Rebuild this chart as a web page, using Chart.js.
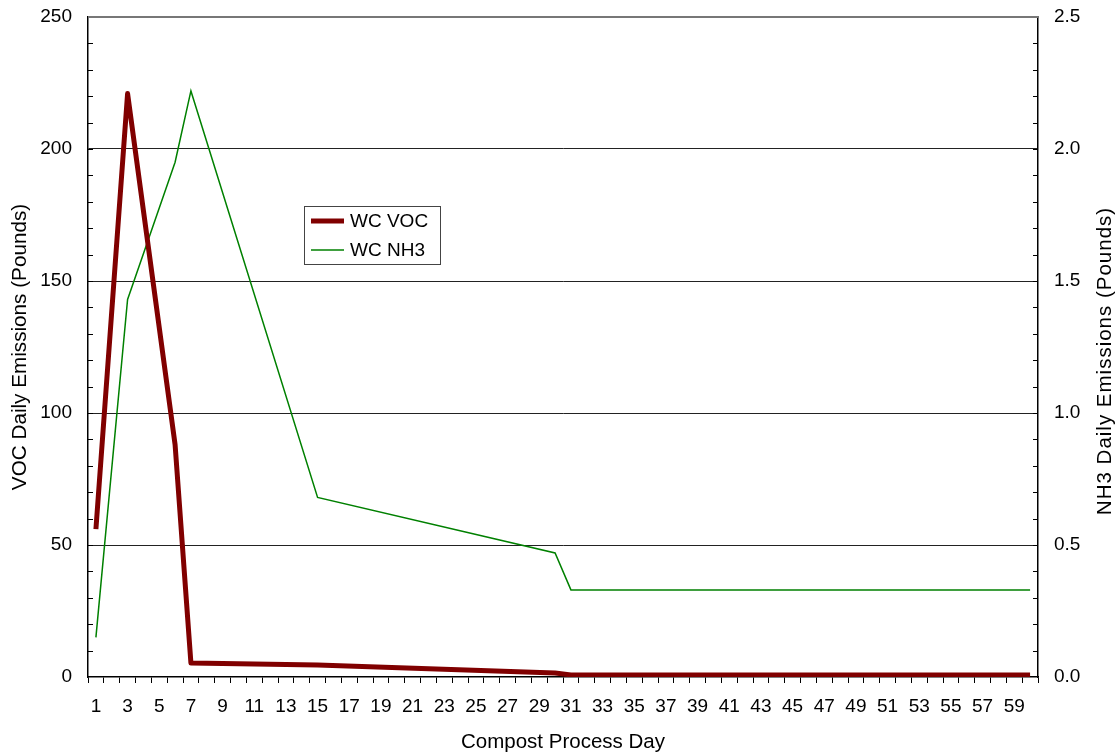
<!DOCTYPE html>
<html>
<head>
<meta charset="utf-8">
<script src="https://cdn.jsdelivr.net/npm/chart.js@4.4.0/dist/chart.umd.min.js"></script>
<style>
  html, body { margin: 0; padding: 0; background: #fff; }
  #wrap { width: 1118px; height: 755px; }
</style>
</head>
<body>
<div id="wrap"><canvas id="chart"></canvas></div>
<script>
// compost days 1..60
const days = ["1","2","3","4","5","6","7","8","9","10","11","12","13","14","15","16","17","18","19","20",
  "21","22","23","24","25","26","27","28","29","30","31","32","33","34","35","36","37","38","39","40",
  "41","42","43","44","45","46","47","48","49","50","51","52","53","54","55","56","57","58","59","60"];

// break points of each series (straight lines between them)
const vocDays = ["1", "3", "6", "7", "15", "30", "31", "60"];
const vocValues = [56, 221, 88, 5.3, 4.5, 1.5, 0.8, 0.8];

const nh3Days = ["1", "3", "6", "7", "15", "30", "31", "60"];
const nh3Values = [0.15, 1.43, 1.95, 2.22, 0.68, 0.47, 0.33, 0.33];

const vocTicks = [0, 50, 100, 150, 200, 250];
const nh3Ticks = [0, 0.5, 1.0, 1.5, 2.0, 2.5];

const FONT = "Liberation Sans, Arial, sans-serif";
const rightTitle = "NH3 Daily Emissions (Pounds)";

// inward minor ticks on both y axes, grey top border, right title, floating legend
const extras = {
  id: "extras",
  afterDraw(chart) {
    const c = chart.ctx;
    const a = chart.chartArea;
    const y = chart.scales.y;
    c.save();
    c.strokeStyle = "#000";
    c.lineWidth = 1;
    for (let v = 10; v < 250; v += 10) {
      const py = Math.round(y.getPixelForValue(v)) + 0.5;
      c.beginPath();
      c.moveTo(a.left, py); c.lineTo(a.left + 5, py);
      c.moveTo(a.right, py); c.lineTo(a.right - 5, py);
      c.stroke();
    }
    // top border
    c.strokeStyle = "#777";
    c.lineWidth = 2;
    c.beginPath();
    c.moveTo(a.left, a.top); c.lineTo(a.right + 1, a.top);
    c.stroke();

    // right axis title, reading bottom to top
    c.save();
    c.translate(1105, 361);
    c.rotate(-Math.PI / 2);
    c.font = "20.5px " + FONT;
    c.letterSpacing = "1px";
    c.fillStyle = "#000";
    c.textAlign = "center";
    c.textBaseline = "middle";
    c.fillText(rightTitle, 0, 0);
    c.restore();

    // legend box
    const lx = a.left + 216, ly = a.top + 189, lw = 136, lh = 58;
    c.strokeStyle = "#444";
    c.lineWidth = 1;
    c.fillStyle = "#fff";
    c.fillRect(lx, ly, lw, lh);
    c.strokeRect(lx + 0.5, ly + 0.5, lw, lh);
    c.font = "19px " + FONT;
    c.textBaseline = "middle";
    chart.data.datasets.forEach((ds, i) => {
      const yy = ly + 15 + i * 29;
      c.strokeStyle = ds.borderColor;
      c.lineWidth = i === 0 ? 5 : 1.5;
      c.beginPath();
      c.moveTo(lx + 7, yy); c.lineTo(lx + 40, yy);
      c.stroke();
      c.fillStyle = "#000";
      c.fillText(ds.label, lx + 46, yy + 1);
    });
    c.restore();
  }
};

function fixWidth(w) {
  return (s) => { s.width = w; s.paddingTop = 0; s.paddingBottom = 0; };
}

const chart = new Chart(document.getElementById("chart"), {
  type: "line",
  data: {
    labels: days,
    datasets: [
      {
        label: "WC VOC",
        data: vocDays.map((d, i) => ({ x: d, y: vocValues[i] })),
        borderColor: "#800000",
        borderWidth: 5,
        borderJoinStyle: "round",
        yAxisID: "y",
      },
      {
        label: "WC NH3",
        data: nh3Days.map((d, i) => ({ x: d, y: nh3Values[i] })),
        borderColor: "#008000",
        borderWidth: 1.5,
        yAxisID: "y1",
      },
    ],
  },
  options: {
    responsive: true,
    maintainAspectRatio: false,
    animation: false,
    spanGaps: true,
    elements: { point: { radius: 0 }, line: { tension: 0 } },
    layout: { padding: { top: 17, left: 0, right: 0, bottom: 0 } },
    plugins: { legend: { display: false }, tooltip: { enabled: false } },
    scales: {
      x: {
        type: "category",
        offset: true,
        afterFit: (s) => { s.height = 78; s.paddingLeft = 0; s.paddingRight = 0; },
        grid: { offset: true, drawOnChartArea: false, drawTicks: true, tickLength: 6, tickColor: "#000" },
        border: { color: "#000", width: 1.5 },
        ticks: {
          autoSkip: false, maxRotation: 0, padding: 12, color: "#000",
          font: { family: FONT, size: 19 },
          callback: (v, i) => (i % 2 === 0 ? days[i] : ""),
        },
        title: {
          display: true, text: "Compost Process Day", color: "#000",
          font: { family: FONT, size: 20.5 }, padding: { top: 7, bottom: 0 },
        },
      },
      y: {
        position: "left",
        min: 0, max: 250,
        afterFit: fixWidth(88),
        afterBuildTicks: (s) => { s.ticks = vocTicks.map((v) => ({ value: v })); },
        grid: {
          drawTicks: false,
          color: (ctx) => (ctx.tick.value === 0 || ctx.tick.value === 250 ? "rgba(0,0,0,0)" : "#222"),
          lineWidth: 1,
        },
        border: { color: "#000", width: 1.5 },
        ticks: { padding: 16, color: "#000", font: { family: FONT, size: 19 } },
        title: {
          display: true, text: "VOC Daily Emissions (Pounds)", color: "#000",
          font: { family: FONT, size: 20.7 }, padding: { top: 8, bottom: 0 },
        },
      },
      y1: {
        position: "right",
        min: 0, max: 2.5,
        afterFit: fixWidth(80),
        afterBuildTicks: (s) => { s.ticks = nh3Ticks.map((v) => ({ value: v })); },
        grid: { drawOnChartArea: false, drawTicks: false },
        border: { color: "#000", width: 1.5 },
        ticks: {
          padding: 16, color: "#000", font: { family: FONT, size: 19 },
          callback: (v) => Number(v).toFixed(1),
        },
        title: { display: false },
      },
    },
  },
  plugins: [extras],
});
</script>
</body>
</html>
